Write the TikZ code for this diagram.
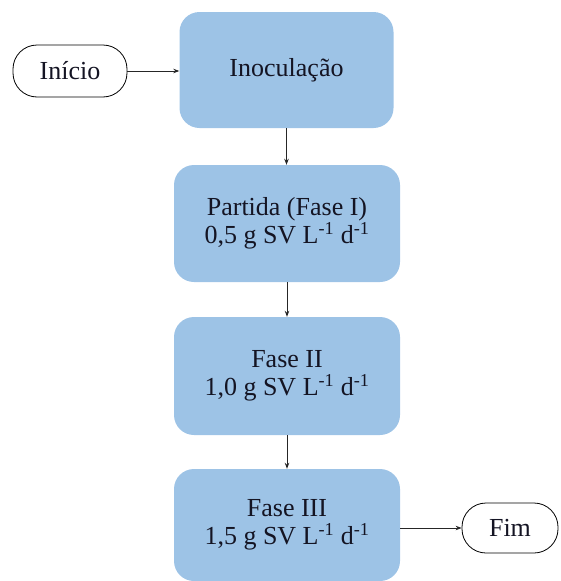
\documentclass[tikz,border=0pt]{standalone}
\usepackage{fontspec}
\setmainfont{LiberationSerif}[Extension=.ttf, UprightFont=*-Regular, BoldFont=*-Bold]
\usetikzlibrary{arrows.meta}
\definecolor{stageblue}{RGB}{157,195,230}
\definecolor{inkdark}{RGB}{20,20,35}
\begin{document}
\begin{tikzpicture}[x=1pt,y=-1pt,
  every node/.style={font=\rmfamily\fontsize{26}{28}\selectfont, text=inkdark, inner sep=0pt, align=center},
  terminal/.style={draw=black, line width=0.8pt, rounded corners=24pt, fill=white},
  stagebox/.style={fill=stageblue, rounded corners=20pt, minimum width=226pt},
  flow/.style={draw=black!85, line width=0.9pt, -{Stealth[length=6pt,width=4.5pt]}}]
  \useasboundingbox (0,0) rectangle (561,581);

  % start and end terminals
  \node[terminal, minimum width=114pt, minimum height=52pt] (ini) at (70,71) {Início};
  \node[terminal, minimum width=96pt, minimum height=50pt] (fim) at (510,528) {Fim};

  % process stages
  \node[stagebox, minimum width=214pt, minimum height=116pt] (ino) at (286.5,70) {Inoculação};
  \node[stagebox, minimum height=117pt] (f1) at (287,223.5)
    {Partida (Fase I)\\0,5 g SV L\textsuperscript{-1} d\textsuperscript{-1}};
  \node[stagebox, minimum height=118pt] (f2) at (287,376)
    {Fase II\\1,0 g SV L\textsuperscript{-1} d\textsuperscript{-1}};
  \node[stagebox, minimum height=112pt] (f3) at (287,525)
    {Fase III\\1,5 g SV L\textsuperscript{-1} d\textsuperscript{-1}};

  % connectors
  \draw[flow] (ini.east) -- (ini.east -| ino.west);
  \draw[flow] (ino.south) -- (ino.south |- f1.north);
  \draw[flow] (f1.south) -- (f2.north);
  \draw[flow] (f2.south) -- (f3.north);
  \draw[flow] (f3.east |- fim.west) -- (fim.west);
\end{tikzpicture}
\end{document}
